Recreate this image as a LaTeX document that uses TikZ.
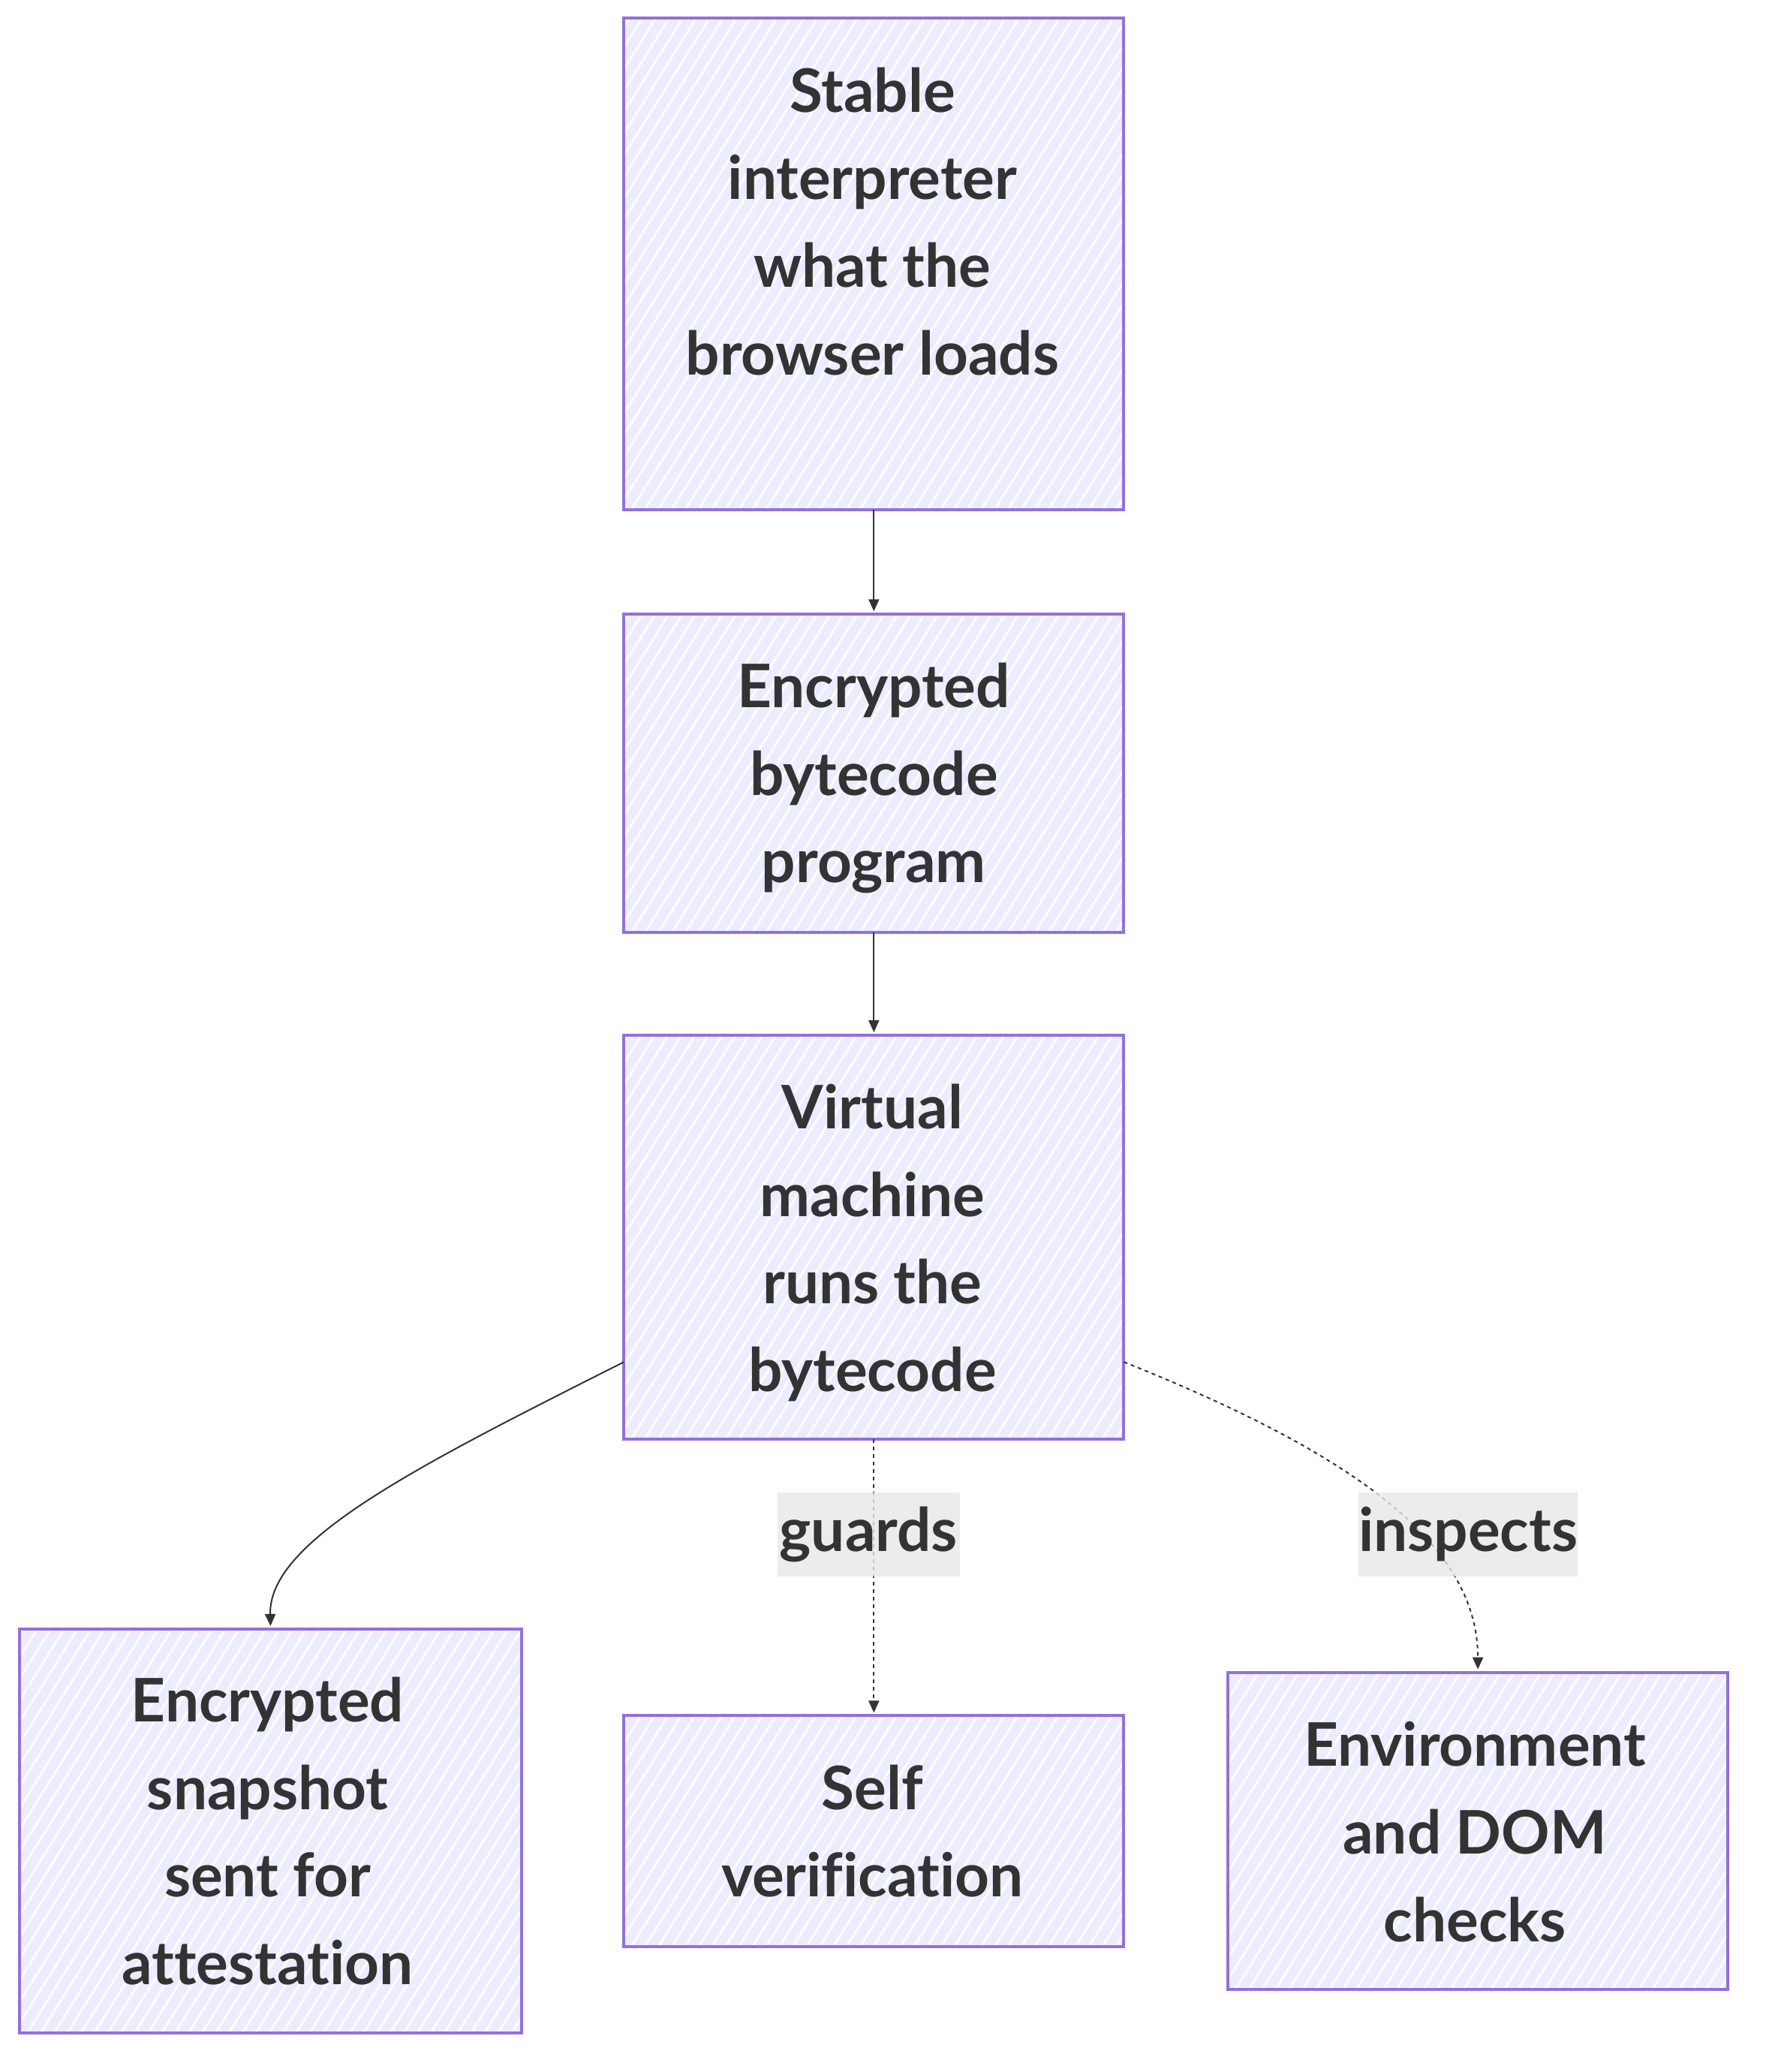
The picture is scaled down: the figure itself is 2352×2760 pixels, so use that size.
\documentclass[tikz,border=0pt]{standalone}
\usepackage{fontspec}
\setmainfont{Lato}[Ligatures={NoCommon}]
\usetikzlibrary{calc,arrows.meta}
\definecolor{boxfill}{HTML}{ECECFF}
\definecolor{boxline}{HTML}{9370DB}
\definecolor{ink}{HTML}{333333}
\definecolor{labfill}{HTML}{E8E8E8}
\newcommand\hatchbox[1]{%
  \begin{scope}
    \clip (#1.south west) rectangle (#1.north east);
    \foreach \t in {-440,-422,...,700}
      \draw[hline] ($(#1.south west)+(\t,0)$) -- ++(-58:900);
  \end{scope}
  \draw[boxborder] (#1.south west) rectangle (#1.north east);
}
\begin{document}
\begin{tikzpicture}[x=0.5pt,y=-0.5pt,
  box/.style={rectangle,fill=boxfill,draw=none,inner sep=0pt},
  hline/.style={white,line width=1.5pt,opacity=0.9},
  boxborder/.style={draw=boxline,line width=2pt},
  txt/.style={align=center,text=ink,inner sep=0pt,
    font=\fontsize{40}{58.3}\selectfont\bfseries},
  lab/.style={fill=labfill,fill opacity=0.8,text opacity=1,text=ink,inner sep=0pt,
    font=\fontsize{40}{58.3}\selectfont\bfseries},
  edge/.style={draw=ink,line width=1pt,-{Triangle[length=8pt,width=7pt]},shorten >=2pt},
  dotedge/.style={edge,dash pattern=on 2.5pt off 2.5pt}
]
\useasboundingbox (0,0) rectangle (2352,2760);
\fill[white] (0,0) rectangle (2352,2760);
\begin{scope}[x=0.498pt,y=-0.498pt]
% boxes
\node[box,minimum width=332.7pt,minimum height=326.7pt] (b1) at (1169,353) {};
\node[box,minimum width=332.7pt,minimum height=211.7pt] (b2) at (1169,1034.5) {};
\node[box,minimum width=332.7pt,minimum height=268.4pt] (b3) at (1169,1654.5) {};
\node[box,minimum width=333.7pt,minimum height=268.4pt] (b4) at (362,2448.5) {};
\node[box,minimum width=332.7pt,minimum height=153.4pt] (b5) at (1169,2449) {};
\node[box,minimum width=332.7pt,minimum height=210.7pt] (b6) at (1977,2448.5) {};
\hatchbox{b1}\hatchbox{b2}\hatchbox{b3}\hatchbox{b4}\hatchbox{b5}\hatchbox{b6}

% texts
\node[txt] (t1) at (1167,302) {\strut Stable\\interpreter\\what the\\browser loads\strut};
\node[txt] (t2) at (1169,1040) {\strut Encrypted\\bytecode\\program\strut};
\node[txt] (t3) at (1167,1662) {\strut Virtual\\machine\\runs the\\bytecode\strut};
\node[txt] (t4) at (358,2455) {\strut Encrypted\\snapshot\\sent for\\attestation\strut};
\node[txt] (t5) at (1167,2455) {\strut Self\\verification\strut};
\node[txt] (t6) at (1973,2456) {\strut Environment\\and DOM\\checks\strut};

% edges
\draw[edge] (b1.south) -- (b2.north);
\draw[edge] (b2.south) -- (b3.north);
\draw[edge] ($(b3.west)+(0,167)$) .. controls (560,1960) and (359,2060) .. (b4.north);
\draw[dotedge] (b3.south) -- (b5.north);
\draw[dotedge] ($(b3.east)+(0,167)$) .. controls (1800,1940) and (1977,2060) .. (b6.north);

% edge labels
\node[lab,minimum width=121.5pt,minimum height=56.3pt] (l1) at (1162,2052) {\raisebox{-3pt}{guards}};
\node[lab,minimum width=142.9pt,minimum height=56.3pt] (l2) at (1964,2052) {\raisebox{-3pt}{inspects}};
\end{scope}
\end{tikzpicture}
\end{document}
